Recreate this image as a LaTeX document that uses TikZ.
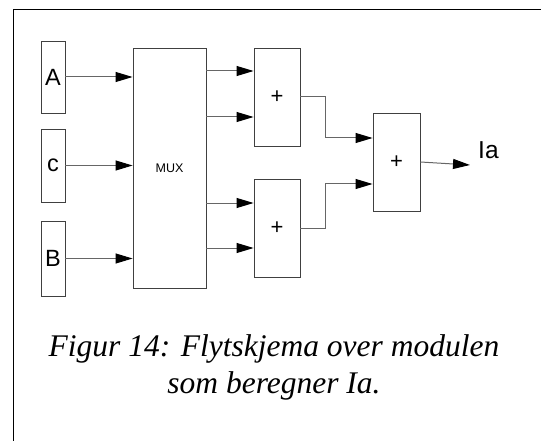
\documentclass[tikz,border=0pt]{standalone}
\usepackage{fontspec}
\setmainfont{Liberation Serif}
\setsansfont{Liberation Sans}
\usetikzlibrary{positioning, arrows.meta, calc}

\begin{document}
\begin{tikzpicture}[
                x=1pt, y=-1pt,
                font=\sffamily,
                blk/.style={rectangle, draw=black!75, line width=0.9pt, inner sep=0pt, align=center},
                inbox/.style={blk, minimum width=24pt, font=\sffamily\fontsize{23.5}{26}\selectfont},
                addbox/.style={blk, minimum width=46pt, minimum height=98pt, font=\sffamily\fontsize{22}{24}\selectfont},
                sig/.style={-{Triangle[length=17pt, width=10pt, color=black]}, draw=black!60, line width=1pt},
                caption_text/.style={anchor=base, font=\itshape\fontsize{31.5}{36}\selectfont}
            ]
                \useasboundingbox (0,0) rectangle (541,441);
                % frame
                \draw[line width=1pt] (541,10) -- (13,10) -- (13,441);

                % inputs
                \node[inbox, minimum height=72pt] (inA) at (53,77) {A};
                \node[inbox, minimum height=73pt] (inC) at (53,165.5) {c};
                \node[inbox, minimum height=75pt] (inB) at (53,258.5) {B};

                % multiplexer
                \node[blk, minimum width=73pt, minimum height=240pt, font=\sffamily\fontsize{12.5}{14}\selectfont] (mux) at (169.5,168) {MUX};

                % adders
                \node[addbox] (add1) at (277,97) {+};
                \node[addbox] (add2) at (277,228) {+};
                \node[addbox, minimum width=47pt] (add3) at (396.5,162) {+};

                \coordinate (a1in1) at ([yshift=26pt]add1.west);
                \coordinate (a1in2) at ([yshift=-20pt]add1.west);
                \coordinate (a2in1) at ([yshift=25pt]add2.west);
                \coordinate (a2in2) at ([yshift=-20pt]add2.west);
                \coordinate (a3in1) at ([yshift=24pt]add3.west);
                \coordinate (a3in2) at ([yshift=-22pt]add3.west);
                \coordinate (out) at (470,165);

                % signals into the mux
                \draw[sig] (inA) -- (inA -| mux.west);
                \draw[sig] (inC) -- (inC -| mux.west);
                \draw[sig] (inB) -- (inB -| mux.west);

                % mux to adders
                \draw[sig] (a1in1 -| mux.east) -- (a1in1);
                \draw[sig] (a1in2 -| mux.east) -- (a1in2);
                \draw[sig] (a2in1 -| mux.east) -- (a2in1);
                \draw[sig] (a2in2 -| mux.east) -- (a2in2);

                % adders to final adder
                \draw[sig] (add1.east) -- ++(25,0) |- (a3in1);
                \draw[sig] (add2.east) -- ++(25,0) |- (a3in2);

                % result
                \draw[sig] (add3.east) -- (out);
                \node[anchor=base west, inner sep=0pt, font=\sffamily\fontsize{24.5}{26}\selectfont] (ia) at (478,159) {Ia};

                % caption
                \node[caption_text] (cap1) at (274,356) {Figur 14: Flytskjema over modulen};
                \node[caption_text] (cap2) at (274,393) {som beregner Ia.};
\end{tikzpicture}
\end{document}
